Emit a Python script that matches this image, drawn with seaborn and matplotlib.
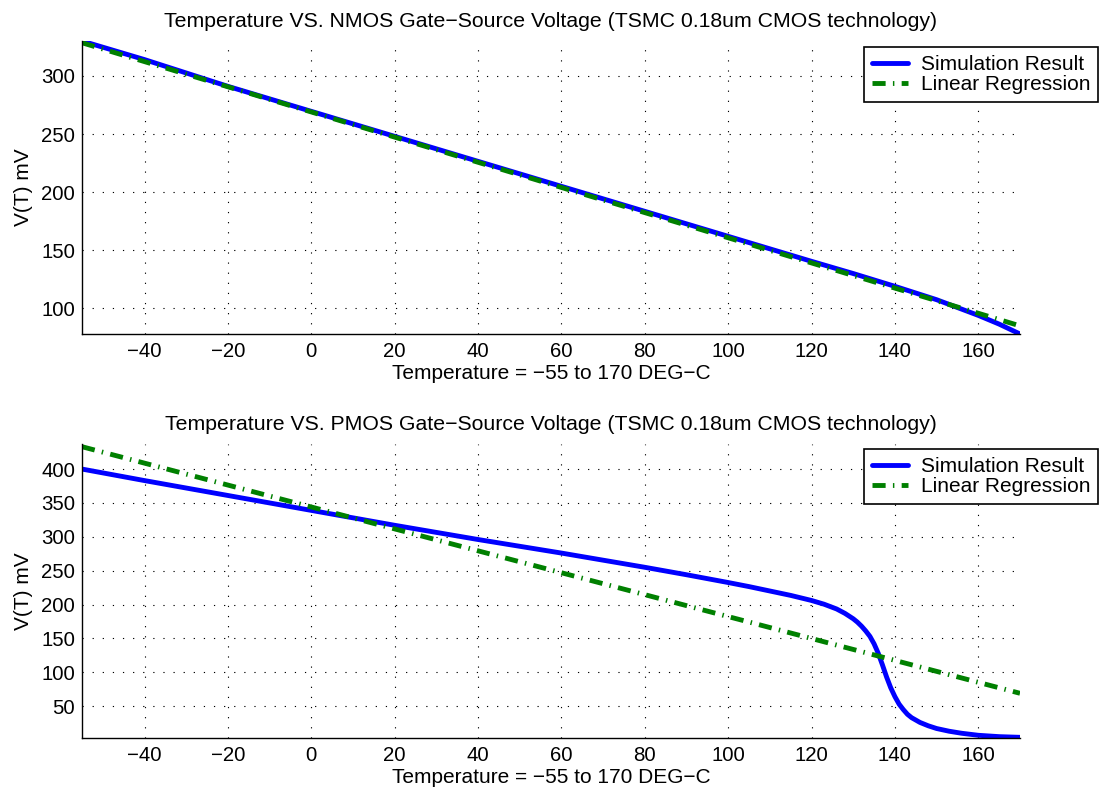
import matplotlib
matplotlib.use("Agg")
import matplotlib.pyplot as plt
import seaborn as sns

# NMOS panel (top)
nmos_temp = [-55, -40, -20, 0, 20, 40, 60, 80, 100, 120, 130, 140, 150, 160, 165, 170]
nmos_sim = [330, 314, 291, 269.5, 248, 226.5, 205, 183.5, 162, 140.5, 130, 119, 107.5, 94, 86.5, 78]
nmos_fit_temp = [-55, 170]
nmos_fit = [328.5, 85]

# PMOS panel (bottom)
pmos_temp = [-55, -40, -20, 0, 20, 40, 60, 80, 90, 100, 105, 110, 115, 120, 123, 126, 128, 130,
             131, 132, 133, 134, 135, 136, 137, 138, 139, 140, 141, 142, 143, 144, 146, 148,
             150, 153, 156, 160, 165, 170]
pmos_sim = [400, 383, 361, 339, 317, 296, 276, 255, 244, 232.5, 226.5, 220, 213.5, 206, 200.5, 193.5, 187, 179,
            174, 168, 161, 153, 142, 128, 111, 93, 77, 64, 53, 45, 38, 33, 26, 21,
            17, 13, 10, 7, 5, 4]
pmos_fit_temp = [-55, 170]
pmos_fit = [433, 69]

xticks = [-40, -20, 0, 20, 40, 60, 80, 100, 120, 140, 160]
nmos_yticks = [100, 150, 200, 250, 300]
pmos_yticks = [50, 100, 150, 200, 250, 300, 350, 400]

titles = ["Temperature VS. NMOS Gate\u2212Source Voltage (TSMC 0.18um CMOS technology)",
          "Temperature VS. PMOS Gate\u2212Source Voltage (TSMC 0.18um CMOS technology)"]
xlabel = "Temperature = \u221255 to 170 DEG\u2212C"
ylabel = "V(T) mV"

sns.set_style("white")
plt.rcParams['font.family'] = ['Liberation Sans', 'DejaVu Sans']
plt.rcParams['font.size'] = 15
plt.rcParams['text.color'] = 'black'
plt.rcParams['axes.labelcolor'] = 'black'
plt.rcParams['xtick.color'] = 'black'
plt.rcParams['ytick.color'] = 'black'

fig = plt.figure(figsize=(11.01, 7.93), dpi=100)
W, H = 1101, 793
ax1 = fig.add_axes([82 / W, 1 - 334 / H, (1020 - 82) / W, (334 - 41) / H])
ax2 = fig.add_axes([82 / W, 1 - 738 / H, (1020 - 82) / W, (738 - 444) / H])

panels = [
    (ax1, nmos_temp, nmos_sim, nmos_fit_temp, nmos_fit, (78, 330), nmos_yticks, 47),
    (ax2, pmos_temp, pmos_sim, pmos_fit_temp, pmos_fit, (3, 437), pmos_yticks, 449),
]

for i, (ax, t, sim, ft, fit, ylim, yt, leg_top) in enumerate(panels):
    sns.lineplot(x=t, y=sim, ax=ax, color=(0, 0, 1), linewidth=3.5,
                 label="Simulation Result", sort=True)
    sns.lineplot(x=ft, y=fit, ax=ax, color=(0, 0.5, 0), linewidth=3.5,
                 linestyle=(0, (2.7, 1.5, 0.3, 1.5)), label="Linear Regression")
    ax.set_xlim(-55, 170)
    ax.set_ylim(*ylim)
    ax.set_xticks(xticks)
    ax.set_yticks(yt)
    ax.grid(True, color='black', linewidth=0.8, linestyle=(0, (1.1, 8.0)))
    ax.tick_params(direction='in', length=7, width=1, color='#444444', pad=6,
                   labelsize=14.7, labelcolor='black')
    ax.tick_params(axis='y', pad=5)
    for side in ['top', 'right']:
        ax.spines[side].set_visible(False)
    for side in ['left', 'bottom']:
        ax.spines[side].set_color('black')
        ax.spines[side].set_linewidth(1.0)
    ax.set_title(titles[i], fontsize=15.3, pad=10, color='black')
    ax.set_xlabel(xlabel, labelpad=2, fontsize=15)
    ax.set_ylabel(ylabel, labelpad=6, fontsize=15)
    leg = ax.legend(loc='upper right', bbox_to_anchor=(1098 / W, 1 - leg_top / H),
                    bbox_transform=fig.transFigure, fancybox=False, framealpha=1,
                    edgecolor='black', borderaxespad=0, handlelength=1.75,
                    handletextpad=0.6, labelspacing=0.05, borderpad=0.38, fontsize=15)
    leg.get_frame().set_linewidth(1.2)

fig.savefig("out.png", dpi=100)
